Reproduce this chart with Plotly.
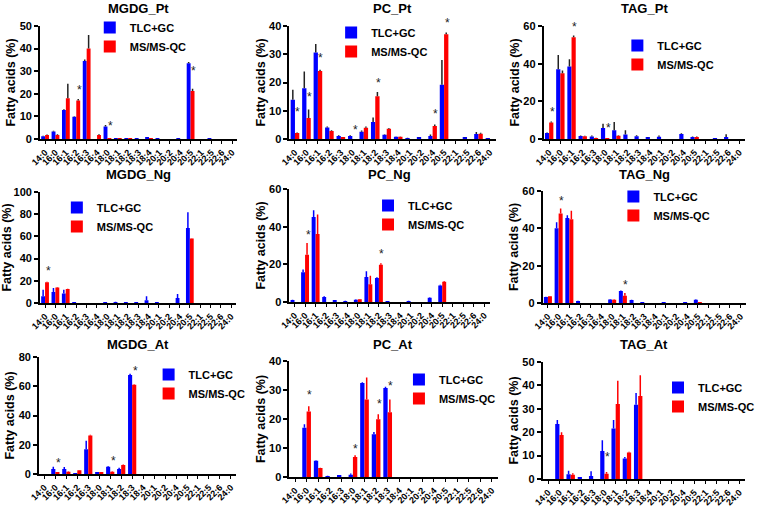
import plotly.graph_objects as go

W, H = 760, 506

CATS19 = ["14:0", "16:0", "16:1", "16:2", "16:3", "16:4", "18:0", "18:1", "18:2", "18:3",
          "18:4", "20:1", "20:2", "20:4", "20:5", "22:1", "22:5", "22:6", "24:0"]
CATS18 = ["14:0", "16:0", "16:1", "16:2", "16:3", "18:0", "18:1", "18:2", "18:3",
          "18:4", "20:1", "20:2", "20:4", "20:5", "22:1", "22:5", "22:6", "24:0"]

SERIES = ["TLC+GC", "MS/MS-QC"]

# ---- MGDG_Pt ----
mgdg_pt_tlc = [1.2, 3.3, 12.8, 9.8, 34.5, 0, 5.5, 0.3, 0.3, 0.3, 0.5, 0.2, 0, 0.3, 33.5, 0, 0.2, 0, 0]
mgdg_pt_tlc_err = [0.2, 0.4, 0.4, 0.3, 0.7, 0, 0.7, 0.1, 0.1, 0.1, 0.2, 0.1, 0, 0.1, 0.6, 0, 0.1, 0, 0]
mgdg_pt_ms = [1.8, 1.8, 18.0, 17.0, 40.0, 1.8, 0.1, 0.3, 0.1, 0, 0.1, 0, 0, 0, 21.2, 0, 0, 0, 0]
mgdg_pt_ms_err = [0.2, 0.3, 6.5, 0.7, 6.0, 0.3, 0, 0.1, 0, 0, 0, 0, 0, 0, 1.0, 0, 0, 0, 0]
mgdg_pt_sig_cat = ["16:2", "18:0", "20:5"]
mgdg_pt_sig_y = [21.5, 5.6, 29.9]

# ---- PC_Pt ----
pc_pt_tlc = [13.9, 18.0, 30.6, 4.1, 1.1, 1.1, 2.6, 6.0, 1.5, 0.8, 0.3, 0.5, 1.1, 19.2, 0, 0.5, 1.8, 0.2]
pc_pt_tlc_err = [3.5, 5.9, 3.0, 0.3, 0.2, 0.2, 0.4, 1.6, 0.2, 0.1, 0.1, 0.2, 0.5, 8.8, 0, 0.2, 0.7, 0.1]
pc_pt_ms = [2.1, 7.4, 24.1, 2.8, 0.5, 0, 4.0, 15.1, 3.6, 0.8, 0, 0, 4.6, 37.1, 0, 0, 1.9, 0]
pc_pt_ms_err = [0.2, 3.0, 0.4, 0.3, 0.1, 0, 0.4, 1.5, 0.3, 0.1, 0, 0, 0.5, 0.6, 0, 0, 0.3, 0]
pc_pt_sig_cat = ["14:0", "16:0", "16:1", "18:0", "18:2", "20:4", "20:5"]
pc_pt_sig_y = [9.4, 14.8, 28.6, 3.3, 19.8, 8.8, 41.0]

# ---- TAG_Pt ----
tag_pt_tlc = [3.2, 37.0, 38.5, 1.6, 1.3, 5.8, 4.6, 2.4, 1.4, 0.8, 1.2, 0, 2.7, 1.0, 0, 0.3, 1.0, 0]
tag_pt_tlc_err = [0.3, 7.6, 3.8, 0.2, 0.5, 2.3, 4.4, 2.2, 0.6, 0.2, 0.6, 0, 0.4, 0.3, 0, 0.1, 1.5, 0]
tag_pt_ms = [8.8, 34.9, 54.0, 1.5, 0.5, 0.2, 1.7, 0, 0, 0, 0, 0, 0, 1.0, 0, 0, 0, 0]
tag_pt_ms_err = [0.5, 1.5, 1.0, 0.2, 0.1, 0, 0.3, 0, 0, 0, 0, 0, 0, 0.3, 0, 0, 0, 0]
tag_pt_sig_cat = ["14:0", "16:1", "18:0"]
tag_pt_sig_y = [14.6, 59.6, 5.8]

# ---- MGDG_Ng ----
mgdg_ng_tlc = [6.0, 10.0, 8.5, 0.6, 0, 0, 0.8, 0.9, 0.8, 0.3, 2.5, 0.5, 0, 4.5, 67.6, 0, 0, 0, 0]
mgdg_ng_tlc_err = [6.0, 3.5, 3.5, 0.2, 0, 0, 0.2, 0.3, 0.2, 0.1, 3.5, 0.2, 0, 3.5, 14.1, 0, 0, 0, 0]
mgdg_ng_ms = [18.6, 14.0, 12.5, 0, 0, 0, 0, 0, 0, 0, 0, 0, 0, 0, 58.0, 0, 0, 0, 0]
mgdg_ng_ms_err = [0.5, 0.5, 0.4, 0, 0, 0, 0, 0, 0, 0, 0, 0, 0, 0, 0.3, 0, 0, 0, 0]
mgdg_ng_sig_cat = ["14:0"]
mgdg_ng_sig_y = [28.5]

# ---- PC_Ng ----
pc_ng_tlc = [1.0, 15.8, 45.1, 2.7, 0.6, 0.5, 1.2, 13.3, 12.7, 0.3, 0, 0.5, 0, 2.3, 8.8, 0, 0, 0, 0]
pc_ng_tlc_err = [0.2, 1.4, 3.6, 0.3, 0.1, 0.1, 0.2, 3.0, 0.5, 0.1, 0, 0.1, 0, 0.2, 0.3, 0, 0, 0, 0]
pc_ng_ms = [0, 25.1, 36.1, 0, 0, 0, 1.5, 9.4, 19.8, 0, 0, 0, 0, 0, 10.8, 0, 0, 0, 0]
pc_ng_ms_err = [0, 6.2, 10.3, 0, 0, 0, 0.1, 4.6, 0.8, 0, 0, 0, 0, 0, 0.3, 0, 0, 0, 0]
pc_ng_sig_cat = ["16:0", "18:2"]
pc_ng_sig_y = [35.8, 25.7]

# ---- TAG_Ng ----
tag_ng_tlc = [3.2, 40.1, 45.6, 1.0, 0, 0, 1.9, 6.4, 1.6, 0.3, 0, 0.3, 0, 0.4, 1.7, 0, 0, 0, 0]
tag_ng_tlc_err = [0.2, 3.1, 1.4, 0.2, 0, 0, 0.2, 0.3, 0.2, 0.1, 0, 0.1, 0, 0.1, 0.3, 0, 0, 0, 0]
tag_ng_ms = [3.6, 48.0, 44.9, 0, 0, 0, 1.8, 3.9, 0, 0, 0, 0, 0, 0, 0.5, 0, 0, 0, 0]
tag_ng_ms_err = [0.2, 2.6, 4.5, 0, 0, 0, 0.2, 1.4, 0, 0, 0, 0, 0, 0, 0.1, 0, 0, 0, 0]
tag_ng_sig_cat = ["16:0", "18:1"]
tag_ng_sig_y = [54.7, 9.8]

# ---- MGDG_At ----
mgdg_at_tlc = [0, 3.4, 3.5, 0.6, 17.0, 1.1, 5.0, 3.5, 67.7, 0, 0, 0, 0, 0, 0, 0, 0, 0]
mgdg_at_tlc_err = [0, 1.6, 1.3, 0.1, 5.7, 0.2, 0.4, 0.8, 0.8, 0, 0, 0, 0, 0, 0, 0, 0, 0]
mgdg_at_ms = [0, 0.8, 1.6, 2.6, 26.4, 0.9, 1.6, 6.1, 61.1, 0, 0, 0, 0, 0, 0, 0, 0, 0]
mgdg_at_ms_err = [0, 0.1, 0.3, 0.2, 0.5, 0.1, 0.2, 0.4, 0.3, 0, 0, 0, 0, 0, 0, 0, 0, 0]
mgdg_at_sig_cat = ["16:0", "18:1", "18:3"]
mgdg_at_sig_y = [7.7, 8.9, 70.5]

# ---- PC_At ----
pc_at_tlc = [0, 17.0, 5.6, 0.3, 0.6, 0.8, 32.4, 14.7, 30.7, 0, 0, 0, 0, 0, 0, 0, 0, 0]
pc_at_tlc_err = [0, 1.2, 0.2, 0.1, 0.1, 0.4, 0.3, 0.8, 0.4, 0, 0, 0, 0, 0, 0, 0, 0, 0]
pc_at_ms = [0, 22.6, 3.1, 0, 0, 6.9, 26.7, 19.9, 22.3, 0, 0, 0, 0, 0, 0, 0, 0, 0]
pc_at_ms_err = [0, 1.8, 0.1, 0, 0, 0.6, 7.6, 1.7, 4.4, 0, 0, 0, 0, 0, 0, 0, 0, 0]
pc_at_sig_cat = ["16:0", "18:0", "18:2", "18:3"]
pc_at_sig_y = [28.2, 9.8, 25.1, 31.3]

# ---- TAG_At ----
tag_at_tlc = [0, 23.5, 2.0, 0.5, 1.3, 12.0, 21.6, 8.8, 31.7, 0, 0, 0, 0, 0, 0, 0, 0, 0]
tag_at_tlc_err = [0, 1.7, 1.5, 0.2, 2.0, 4.6, 3.6, 0.6, 5.0, 0, 0, 0, 0, 0, 0, 0, 0, 0]
tag_at_ms = [0, 18.8, 1.8, 0, 0, 2.2, 32.0, 11.3, 35.5, 0, 0, 0, 0, 0, 0, 0, 0, 0]
tag_at_ms_err = [0, 1.2, 0.7, 0, 0, 0.8, 10.0, 0.3, 8.8, 0, 0, 0, 0, 0, 0, 0, 0, 0]
tag_at_sig_cat = ["18:0"]
tag_at_sig_y = [9.5]

panels = [
    dict(title="MGDG_Pt", cats=CATS19, tlc=mgdg_pt_tlc, tlc_err=mgdg_pt_tlc_err, ms=mgdg_pt_ms, ms_err=mgdg_pt_ms_err,
         sig_cat=mgdg_pt_sig_cat, sig_y=mgdg_pt_sig_y, ymax=50, dtick=10, dx=(40, 238), dy=(26, 139), row=0, leg=(108, 30)),
    dict(title="PC_Pt", cats=CATS18, tlc=pc_pt_tlc, tlc_err=pc_pt_tlc_err, ms=pc_pt_ms, ms_err=pc_pt_ms_err,
         sig_cat=pc_pt_sig_cat, sig_y=pc_pt_sig_y, ymax=40, dtick=10, dx=(290, 497), dy=(26, 139), row=0, leg=(350, 35)),
    dict(title="TAG_Pt", cats=CATS18, tlc=tag_pt_tlc, tlc_err=tag_pt_tlc_err, ms=tag_pt_ms, ms_err=tag_pt_ms_err,
         sig_cat=tag_pt_sig_cat, sig_y=tag_pt_sig_y, ymax=60, dtick=20, dx=(545, 747), dy=(26, 139), row=0, leg=(637, 48)),
    dict(title="MGDG_Ng", cats=CATS19, tlc=mgdg_ng_tlc, tlc_err=mgdg_ng_tlc_err, ms=mgdg_ng_ms, ms_err=mgdg_ng_ms_err,
         sig_cat=mgdg_ng_sig_cat, sig_y=mgdg_ng_sig_y, ymax=100, dtick=20, dx=(40, 237), dy=(192, 303), row=1, leg=(75, 210)),
    dict(title="PC_Ng", cats=CATS19, tlc=pc_ng_tlc, tlc_err=pc_ng_tlc_err, ms=pc_ng_ms, ms_err=pc_ng_ms_err,
         sig_cat=pc_ng_sig_cat, sig_y=pc_ng_sig_y, ymax=60, dtick=20, dx=(290, 491), dy=(189, 302), row=1, leg=(387, 208)),
    dict(title="TAG_Ng", cats=CATS19, tlc=tag_ng_tlc, tlc_err=tag_ng_tlc_err, ms=tag_ng_ms, ms_err=tag_ng_ms_err,
         sig_cat=tag_ng_sig_cat, sig_y=tag_ng_sig_y, ymax=60, dtick=20, dx=(544, 748), dy=(191, 303), row=1, leg=(633, 199)),
    dict(title="MGDG_At", cats=CATS18, tlc=mgdg_at_tlc, tlc_err=mgdg_at_tlc_err, ms=mgdg_at_ms, ms_err=mgdg_at_ms_err,
         sig_cat=mgdg_at_sig_cat, sig_y=mgdg_at_sig_y, ymax=80, dtick=20, dx=(39, 237), dy=(357, 474), row=2, leg=(167, 377)),
    dict(title="PC_At", cats=CATS18, tlc=pc_at_tlc, tlc_err=pc_at_tlc_err, ms=pc_at_ms, ms_err=pc_at_ms_err,
         sig_cat=pc_at_sig_cat, sig_y=pc_at_sig_y, ymax=40, dtick=10, dx=(290, 499), dy=(361, 477), row=2, leg=(418, 382)),
    dict(title="TAG_At", cats=CATS18, tlc=tag_at_tlc, tlc_err=tag_at_tlc_err, ms=tag_at_ms, ms_err=tag_at_ms_err,
         sig_cat=tag_at_sig_cat, sig_y=tag_at_sig_y, ymax=50, dtick=10, dx=(544, 747), dy=(362, 479), row=2, leg=(678, 390)),
]

TITLE_Y = [8, 174, 344]
BLUE, RED = "#0000FF", "#FF0000"
FONT = "Liberation Sans, Arial, sans-serif"

fig = go.Figure()
layout = dict(
    width=W, height=H, margin=dict(l=0, r=0, t=0, b=0),
    paper_bgcolor="white", plot_bgcolor="white",
    barmode="group", bargap=0.25, bargroupgap=0.0,
    font=dict(family=FONT, color="black"),
    annotations=[],
)

for i, p in enumerate(panels):
    k = i + 1
    sfx = "" if k == 1 else str(k)
    xa, ya = "x" + sfx, "y" + sfx
    legname = "legend" + sfx
    n = len(p["cats"])
    dark = p["row"] == 0
    for name, vals, errs, col in ((SERIES[0], p["tlc"], p["tlc_err"], BLUE),
                                  (SERIES[1], p["ms"], p["ms_err"], RED)):
        fig.add_trace(go.Bar(
            x=p["cats"], y=vals, name=name, xaxis=xa, yaxis=ya, legend=legname,
            marker=dict(color=col, line=dict(width=0)),
            error_y=dict(type="data", array=errs, arrayminus=[0] * n, symmetric=False,
                         color="#222222" if dark else col, thickness=1.5, width=0),
            hoverinfo="skip",
        ))
    x0, x1 = p["dx"]
    y0, y1 = p["dy"]
    plot_h = y1 - y0
    # significance asterisks, placed next to the MS/MS-QC bar
    for cat, v in zip(p["sig_cat"], p["sig_y"]):
        vin = min(v, p["ymax"])
        layout["annotations"].append(dict(
            text="*", xref=xa, yref=ya, x=cat, y=vin,
            yshift=(v - vin) * plot_h / p["ymax"], xshift=3,
            xanchor="center", yanchor="middle", showarrow=False,
            font=dict(size=12, color="#222222", family=FONT),
        ))
    layout["xaxis" + sfx] = dict(
        domain=[x0 / W, x1 / W], anchor=ya, type="category",
        categoryorder="array", categoryarray=p["cats"],
        tickmode="array", tickvals=p["cats"], ticktext=p["cats"],
        range=[-0.5, n - 0.5],
        showline=True, linecolor="black", linewidth=1.5, ticks="outside", ticklen=3,
        tickwidth=1, tickcolor="black", tickangle=-45, showgrid=False, zeroline=False,
        tickfont=dict(size=9, family=FONT, weight="bold"), automargin=False,
    )
    layout["yaxis" + sfx] = dict(
        domain=[1 - y1 / H, 1 - y0 / H], anchor=xa, range=[0, p["ymax"]], dtick=p["dtick"],
        showline=True, linecolor="black", linewidth=1.5, ticks="outside", ticklen=4,
        tickwidth=1.5, tickcolor="black", showgrid=False, zeroline=False,
        tickfont=dict(size=11, family=FONT, weight="bold"), automargin=False,
        title=dict(text="Fatty acids (%)", standoff=1, font=dict(size=12.5, family=FONT, weight="bold")),
    )
    lx, ly = p["leg"]
    layout[legname] = dict(
        x=(lx - 18) / W, y=1 - (ly - 17) / H, xanchor="left", yanchor="top",
        bgcolor="rgba(0,0,0,0)", borderwidth=0,
        font=dict(size=11, family=FONT, weight="bold"), itemclick=False, itemdoubleclick=False,
    )
    layout["annotations"].append(dict(
        text=p["title"], xref="paper", yref="paper", x=(x0 + x1) / 2 / W, y=1 - TITLE_Y[p["row"]] / H,
        xanchor="center", yanchor="middle", showarrow=False,
        font=dict(size=13, family=FONT, weight="bold"),
    ))

fig.update_layout(**layout)
fig.write_html("out.html", config={"displayModeBar": False},
               post_script="document.body.style.margin='0';document.body.style.padding='0';")
